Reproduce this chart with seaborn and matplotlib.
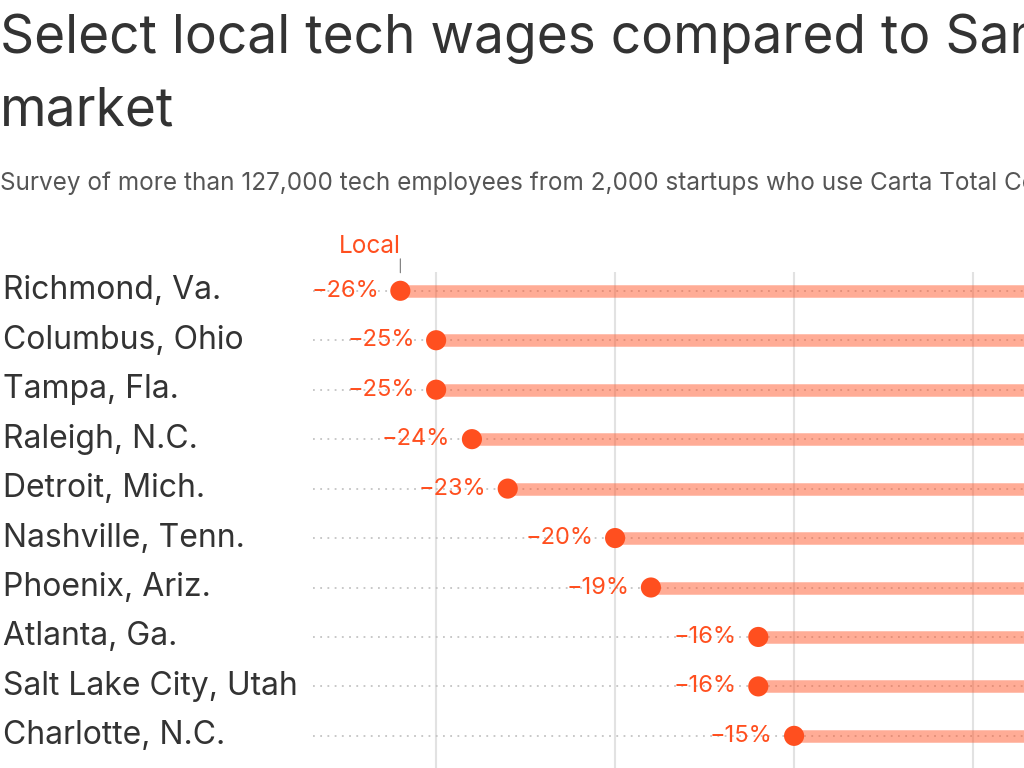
import matplotlib.pyplot as plt
import matplotlib.transforms as mtransforms
import pandas as pd
import seaborn as sns

# data
cities = ["Richmond, Va.", "Columbus, Ohio", "Tampa, Fla.", "Raleigh, N.C.",
          "Detroit, Mich.", "Nashville, Tenn.", "Phoenix, Ariz.", "Atlanta, Ga.",
          "Salt Lake City, Utah", "Charlotte, N.C."]
local_pct = [-26, -25, -25, -24, -23, -20, -19, -16, -16, -15]
sf_pct = 0  # San Francisco reference (off the right edge)
grid_ticks = [-25, -20, -15, -10, -5, 0]

title_lines = ["Select local tech wages compared to San Francisco", "market"]
subtitle = ("Survey of more than 127,000 tech employees from 2,000 startups "
            "who use Carta Total Compensation")

ORANGE = "#FF4F1F"
BAR = "#FF5A2E"
DARK = "#333333"

sns.set_theme(style="white")
plt.rcParams['font.family'] = ['Inter', 'DejaVu Sans']

df = pd.DataFrame({"city": cities, "local": local_pct, "row": range(len(cities))})

fig = plt.figure(figsize=(10.24, 7.68), dpi=100)
# axes run past the right edge of the figure, like the cropped original
ax = fig.add_axes([313 / 1024, 0, (1331 - 313) / 1024, (768 - 272) / 768])
xmin = -28.44
ax.set_xlim(xmin, 0)
ax.set_ylim(9.65, -0.38)

ax.set_xticks(grid_ticks)
ax.set_xticklabels([])
ax.set_yticks([])
ax.grid(axis="x", color="#e2e2e2", lw=1.5)
ax.set_axisbelow(True)
sns.despine(ax=ax, left=True, bottom=True)
ax.tick_params(length=0)

# dotted guides
ax.hlines(df.row, xmin, sf_pct, colors="#c4c4c4", linestyles=(0, (1, 3)), lw=1.3, zorder=1)
# bars from local value to SF
ax.hlines(df.row, df.local, sf_pct, colors=BAR, alpha=0.5, lw=9, zorder=2)
sns.scatterplot(data=df, x="local", y="row", color=ORANGE, s=210,
                edgecolor="none", ax=ax, zorder=3, legend=False)
ax.set_xlabel("")
ax.set_ylabel("")

for _, r in df.iterrows():
    ax.annotate(f"\u2212{abs(r.local)}%", xy=(r.local, r.row), xytext=(-15.5, 0),
                textcoords="offset points", ha="right", va="center",
                color=ORANGE, fontsize=17)

label_tf = mtransforms.blended_transform_factory(fig.transFigure, ax.transData)
for _, r in df.iterrows():
    ax.text(3 / 1024, r.row, r.city, transform=label_tf, ha="left", va="center",
            fontsize=23, color=DARK)

# "Local" marker above first row
ax.annotate("", xy=(local_pct[0], 0), xytext=(0, 23), textcoords="offset points",
            arrowprops=dict(arrowstyle="-", color="#777777", lw=0.8,
                            shrinkA=0, shrinkB=13))
ax.annotate("Local", xy=(local_pct[0], 0), xytext=(0, 27), textcoords="offset points",
            ha="right", va="baseline", color=ORANGE, fontsize=17.5)

fig.text(0, 1 - 53 / 768, title_lines[0], ha="left", va="baseline", fontsize=38.3, color=DARK)
fig.text(0, 1 - 125 / 768, title_lines[1], ha="left", va="baseline", fontsize=38.3, color=DARK)
fig.text(0, 1 - 190 / 768, subtitle, ha="left", va="baseline", fontsize=17.5,
         color="#555555")

fig.savefig("out.png", dpi=100)
